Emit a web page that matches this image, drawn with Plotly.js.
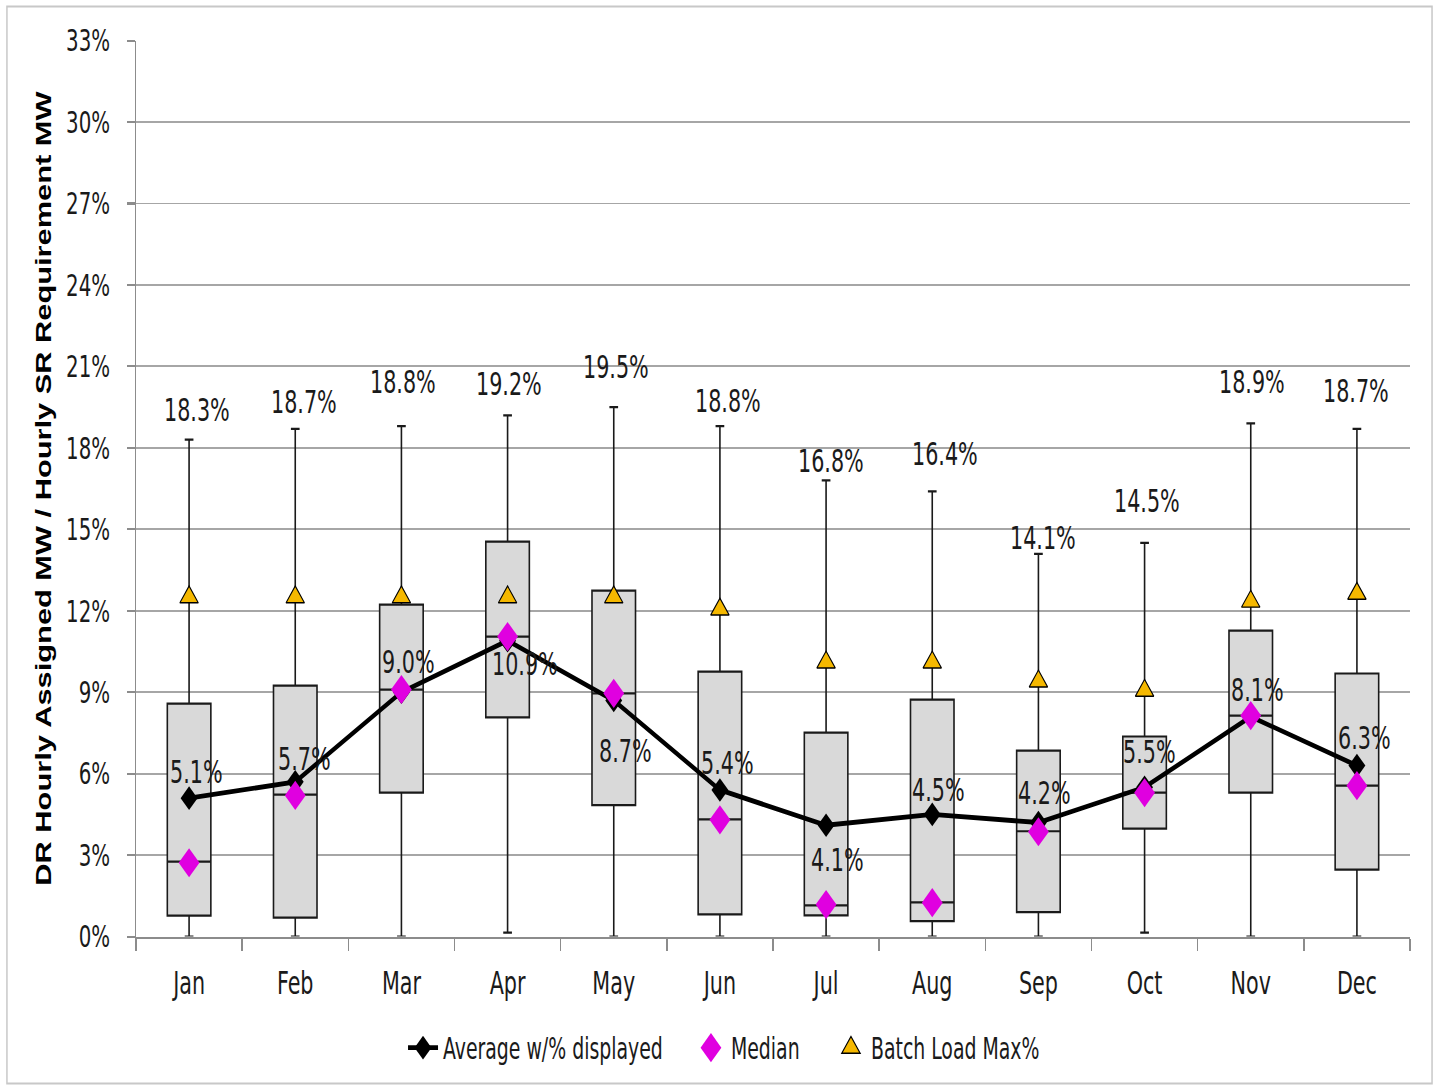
<!DOCTYPE html>
<html>
<head>
<meta charset="utf-8">
<script src="https://cdn.plot.ly/plotly-3.0.1.min.js"></script>
<style>
html,body{margin:0;padding:0;background:#fff;overflow:hidden;}
#wrap{width:1437px;height:1088px;overflow:hidden;position:relative;background:#fff;}
#chart{width:1437px;height:777px;transform:scaleY(1.4);transform-origin:0 0;}
</style>
</head>
<body>
<div id="wrap"><div id="chart"></div></div>
<script>
// ---- data ----
const months = ['Jan','Feb','Mar','Apr','May','Jun','Jul','Aug','Sep','Oct','Nov','Dec'];
const whiskerMin = [0, 0, 0, 0.15, 0, 0, 0, 0, 0, 0.15, 0, 0];
const quartile1 = [0.77, 0.7, 5.3, 8.07, 4.84, 0.82, 0.78, 0.57, 0.9, 3.98, 5.3, 2.47];
const medianLine = [2.76, 5.23, 9.1, 11.05, 8.96, 4.32, 1.15, 1.26, 3.88, 5.3, 8.14, 5.56];
const quartile3 = [8.58, 9.24, 12.23, 14.55, 12.74, 9.76, 7.51, 8.73, 6.85, 7.37, 11.27, 9.69];
const maxValue = [18.3, 18.7, 18.8, 19.2, 19.5, 18.8, 16.8, 16.4, 14.1, 14.5, 18.9, 18.7];
const averageValue = [5.1, 5.7, 9.0, 10.9, 8.7, 5.4, 4.1, 4.5, 4.2, 5.5, 8.1, 6.3];
const medianValue = [2.72, 5.2, 9.1, 11.05, 8.96, 4.3, 1.18, 1.25, 3.86, 5.3, 8.14, 5.56];
const batchLoadMax = [12.5, 12.5, 12.5, 12.5, 12.5, 12.05, 10.1, 10.1, 9.4, 9.06, 12.34, 12.63];
const yTickVals = [0, 3, 6, 9, 12, 15, 18, 21, 24, 27, 30, 33];

// ---- label placement (styling) ----
const avgShiftX = [7, 9, 7, 17, 12, 8, 11, 6, 6, 5, 7, 8];
const avgShiftY = [19, 16, 21, -16, -36, 19, -25, 18, 22, 25, 19, 20];
const maxShiftX = [8, 9, 2, 1, 2, 8, 5, 13, 5, 2, 1, -1];
const maxShiftY = [21, 19, 31, 23, 29, 18, 14, 27, 12, 30, 29, 27];

const NARROW = "'Liberation Sans Narrow', 'Arial Narrow', 'DejaVu Sans Condensed', sans-serif";
const TXT = '#1a1a1a';
const LBL = 23;

const traces = [
  {
    type: 'box', x: months,
    q1: quartile1, median: medianLine, q3: quartile3,
    lowerfence: whiskerMin, upperfence: maxValue,
    fillcolor: '#d9d9d9', line: {color: '#1a1a1a', width: 1.6},
    whiskerwidth: 0.2, width: 0.41, boxpoints: false,
    showlegend: false, hoverinfo: 'skip'
  },
  {
    type: 'scatter', mode: 'lines+markers', x: months, y: averageValue,
    name: 'Average w/% displayed', legend: 'legend',
    line: {color: '#000', width: 3.5},
    marker: {symbol: 'diamond', size: 13, color: '#000'}
  },
  {
    type: 'scatter', mode: 'markers', x: months, y: medianValue,
    name: 'Median', legend: 'legend2',
    marker: {symbol: 'diamond', size: 16, color: '#e000e0'}
  },
  {
    type: 'scatter', mode: 'markers', x: months, y: batchLoadMax,
    name: 'Batch Load Max%', legend: 'legend3',
    marker: {symbol: 'triangle-up', size: 16, color: '#f5b800', line: {color: '#000', width: 1}}
  }
];

const annotations = [];
months.forEach((m, i) => {
  annotations.push({
    x: m, y: averageValue[i], xref: 'x', yref: 'y', showarrow: false,
    text: averageValue[i].toFixed(1) + '%', xshift: avgShiftX[i], yshift: avgShiftY[i],
    font: {family: NARROW, size: LBL, color: TXT}
  });
  annotations.push({
    x: m, y: maxValue[i], xref: 'x', yref: 'y', showarrow: false,
    text: maxValue[i].toFixed(1) + '%', xshift: maxShiftX[i], yshift: maxShiftY[i],
    font: {family: NARROW, size: LBL, color: TXT}
  });
});

const legendBase = {
  orientation: 'h', xanchor: 'left', y: -0.1245, yanchor: 'middle',
  font: {family: NARROW, size: 21, color: TXT}, bgcolor: 'rgba(0,0,0,0)', borderwidth: 0
};

const layout = {
  width: 1437, height: 777,
  margin: {l: 136, r: 27, t: 29.3, b: 107.7, autoexpand: false},
  paper_bgcolor: '#fff', plot_bgcolor: '#fff',
  font: {family: NARROW, color: TXT},
  showlegend: true,
  legend: Object.assign({}, legendBase, {x: 0.2096}),
  legend2: Object.assign({}, legendBase, {x: 0.4356}),
  legend3: Object.assign({}, legendBase, {x: 0.5455}),
  xaxis: {
    type: 'category', automargin: false, range: [-0.5, 11.5], autorange: false,
    tickson: 'boundaries', ticks: 'outside', ticklen: 9, tickwidth: 1.5, tickcolor: '#8c8c8c',
    showline: true, linecolor: '#8c8c8c', linewidth: 1.5,
    showgrid: false, zeroline: false,
    ticklabelstandoff: 12,
    tickfont: {family: NARROW, size: 23, color: TXT}
  },
  yaxis: {
    range: [0, 33], autorange: false, tickvals: yTickVals, ticktext: yTickVals.map(v => v + '%'),
    automargin: false,
    showgrid: true, gridcolor: '#a6a6a6', gridwidth: 1.4,
    showline: true, linecolor: '#8c8c8c', linewidth: 1.5,
    ticks: 'outside', ticklen: 8, tickwidth: 1.5, tickcolor: '#8c8c8c',
    zeroline: false,
    tickfont: {family: NARROW, size: 22, color: TXT},
    ticklabelstandoff: 12,
    title: {
      text: 'DR Hourly Assigned MW / Hourly SR Requirement MW',
      font: {family: "'Liberation Sans', Arial, sans-serif", size: 22, color: '#000', weight: 'bold'},
      standoff: 8
    }
  },
  annotations: annotations,
  shapes: [{
    type: 'rect', xref: 'paper', yref: 'paper',
    x0: -0.1013, x1: 1.0173, y0: -0.164, y1: 1.038,
    line: {color: '#c8c8c8', width: 1.5}, fillcolor: 'rgba(0,0,0,0)', layer: 'below'
  }]
};

Plotly.newPlot('chart', traces, layout, {staticPlot: true, displayModeBar: false});
</script>
</body>
</html>
